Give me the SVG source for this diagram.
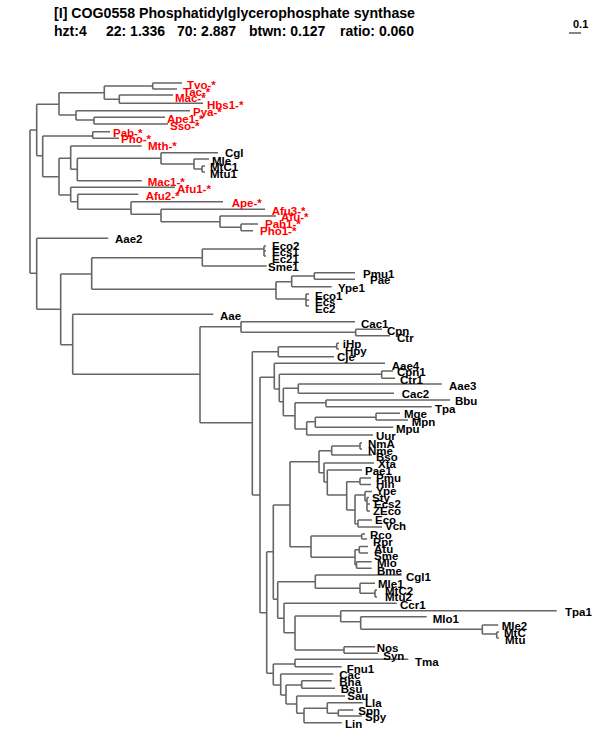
<svg xmlns="http://www.w3.org/2000/svg" width="600" height="750" viewBox="0 0 600 750">
<style>
.e{fill:none;stroke:#666;stroke-width:1.6}
text{font-family:"Liberation Sans",Arial,Helvetica,sans-serif;font-weight:bold;font-size:11.5px;fill:#000}
.r text{fill:#f00}
.h{font-size:14px}
</style>
<rect width="600" height="750" fill="#fff"/>
<g id="header">
<text class="h" x="54" y="18" textLength="361" lengthAdjust="spacingAndGlyphs">[I] COG0558 Phosphatidylglycerophosphate synthase</text>
<text class="h" y="36"><tspan x="54">hzt:4</tspan><tspan x="106">22: 1.336</tspan><tspan x="177">70: 2.887</tspan><tspan x="249">btwn: 0.127</tspan><tspan x="340">ratio: 0.060</tspan></text>
</g>
<g id="scale">
<path class="e" d="M569 33 H581"/>
<text x="573" y="28" style="font-size:11px">0.1</text>
</g>
<g id="connectors">
<path class="e" d="M30 130 V273.3 M30 130 H36.7 M30 273.3 H36.7"/>
<path class="e" d="M36.7 104.3 V155.7 M36.7 104.3 H59 M36.7 155.7 H42.7"/>
<path class="e" d="M59 92.7 V115 M59 92.7 H104.3 M59 115 H76"/>
<path class="e" d="M104.3 86 V99.3 M104.3 86 H152.7 M104.3 99.3 H119.3"/>
<path class="e" d="M152.7 83 V89 M152.7 83 H182 M152.7 89 H177"/>
<path class="e" d="M119.3 95 V103.3 M119.3 95 H173 M119.3 103.3 H203"/>
<path class="e" d="M76 110.7 V120 M76 110.7 H190 M76 120 H94"/>
<path class="e" d="M94 117.3 V124 M94 117.3 H165 M94 124 H168"/>
<path class="e" d="M42.7 136 V176.7 M42.7 136 H92.7 M42.7 176.7 H59"/>
<path class="e" d="M92.7 131.7 V138.3 M92.7 131.7 H110 M92.7 138.3 H119"/>
<path class="e" d="M59 158.3 V195 M59 158.3 H70.7 M59 195 H70.7"/>
<path class="e" d="M70.7 146 V169.3 M70.7 146 H141.7 M70.7 169.3 H77.3"/>
<path class="e" d="M77.3 158.3 V180.7 M77.3 158.3 H161 M77.3 180.7 H141.7"/>
<path class="e" d="M161 152.7 V164 M161 152.7 H218 M161 164 H194"/>
<path class="e" d="M194 159 V169 M194 159 H209 M194 169 H202"/>
<path class="e" d="M202 166 V172 M202 166 H205 M202 172 H205"/>
<path class="e" d="M70.7 187.3 V201.7 M70.7 187.3 H175 M70.7 201.7 H77.7"/>
<path class="e" d="M77.7 194.3 V209.3 M77.7 194.3 H138.3 M77.7 209.3 H131"/>
<path class="e" d="M131 201.7 V214.3 M131 201.7 H223 M131 214.3 H161"/>
<path class="e" d="M161 209.3 V221.7 M161 209.3 H265 M161 221.7 H220"/>
<path class="e" d="M220 216 V227.3 M220 216 H276 M220 227.3 H241"/>
<path class="e" d="M241 224 V230.7 M241 224 H258 M241 230.7 H253"/>
<path class="e" d="M36.7 238.3 V309.3 M36.7 238.3 H108.3 M36.7 309.3 H60.7"/>
<path class="e" d="M60.7 274 V344.7 M60.7 274 H91.7 M60.7 344.7 H72.7"/>
<path class="e" d="M91.7 257.7 V289.3 M91.7 257.7 H202.3 M91.7 289.3 H276"/>
<path class="e" d="M202.3 249 V266 M202.3 249 H264 M202.3 266 H266.7"/>
<path class="e" d="M264 246 V256 M264 246 H266 M264 251 H266 M264 256 H266"/>
<path class="e" d="M276 281.7 V299 M276 281.7 H291.7 M276 299 H306"/>
<path class="e" d="M291.7 276 V286.7 M291.7 276 H314.3 M291.7 286.7 H331.7"/>
<path class="e" d="M314.3 272.7 V279.3 M314.3 272.7 H355 M314.3 279.3 H355"/>
<path class="e" d="M306 294 V306 M306 294 H309 M306 300 H309 M306 306 H309"/>
<path class="e" d="M72.7 314.3 V374.3 M72.7 314.3 H213.3 M72.7 374.3 H200"/>
<path class="e" d="M200 326.7 V422.7 M200 326.7 H241 M200 422.7 H252.3"/>
<path class="e" d="M241 321.7 V332.3 M241 321.7 H355 M241 332.3 H355.7"/>
<path class="e" d="M355.7 329.3 V335.7 M355.7 329.3 H382 M355.7 335.7 H390"/>
<path class="e" d="M252.3 351.7 V495 M252.3 351.7 H278.3 M252.3 495 H260"/>
<path class="e" d="M278.3 346.7 V356.7 M278.3 346.7 H336.7 M278.3 356.7 H334"/>
<path class="e" d="M336.7 343.3 V349 M336.7 343.3 H339 M336.7 349 H339"/>
<path class="e" d="M260 377.3 V612.7 M260 377.3 H274.3 M260 612.7 H266.7"/>
<path class="e" d="M274.3 363.3 V389 M274.3 363.3 H385 M274.3 389 H279.3"/>
<path class="e" d="M279.3 374.3 V401.7 M279.3 374.3 H381.7 M279.3 401.7 H283.3"/>
<path class="e" d="M381.7 371 V378.3 M381.7 371 H393 M381.7 378.3 H395"/>
<path class="e" d="M283.3 388.3 V415.7 M283.3 388.3 H298.3 M283.3 415.7 H295"/>
<path class="e" d="M298.3 384 V393.3 M298.3 384 H441.7 M298.3 393.3 H394"/>
<path class="e" d="M295 402.7 V429 M295 402.7 H326 M295 429 H306.7"/>
<path class="e" d="M326 400 V406.7 M326 400 H450 M326 406.7 H431.7"/>
<path class="e" d="M306.7 421.7 V435 M306.7 421.7 H315.3 M306.7 435 H373"/>
<path class="e" d="M315.3 417.3 V427.3 M315.3 417.3 H376 M315.3 427.3 H393.3"/>
<path class="e" d="M376 413.3 V420 M376 413.3 H400 M376 420 H408"/>
<path class="e" d="M266.7 551.7 V673.3 M266.7 551.7 H273.3 M266.7 673.3 H273.3"/>
<path class="e" d="M273.3 505 V599.3 M273.3 505 H290 M273.3 599.3 H277.7"/>
<path class="e" d="M290 461.7 V546.7 M290 461.7 H319 M290 546.7 H311"/>
<path class="e" d="M319 450.7 V472.7 M319 450.7 H331.7 M319 472.7 H324"/>
<path class="e" d="M331.7 446 V455 M331.7 446 H360 M331.7 455 H372"/>
<path class="e" d="M360 443 V449 M360 443 H362 M360 449 H362"/>
<path class="e" d="M324 463 V482 M324 463 H374 M324 482 H327.3"/>
<path class="e" d="M327.3 470 V495 M327.3 470 H362 M327.3 495 H346.7"/>
<path class="e" d="M346.7 481.7 V510 M346.7 481.7 H360 M346.7 510 H355"/>
<path class="e" d="M360 478 V484.5 M360 478 H371 M360 484.5 H371"/>
<path class="e" d="M355 495 V524 M355 495 H365 M355 524 H358"/>
<path class="e" d="M365 491.5 V501 M365 491.5 H372 M365 501 H367"/>
<path class="e" d="M367 497.5 V511 M367 497.5 H369 M367 504 H370 M367 511 H370"/>
<path class="e" d="M358 520 V527 M358 520 H372 M358 527 H382"/>
<path class="e" d="M311 536 V557.3 M311 536 H361.7 M311 557.3 H355"/>
<path class="e" d="M361.7 534 V539 M361.7 534 H365 M361.7 539 H367"/>
<path class="e" d="M355 549.7 V565 M355 549.7 H359.3 M355 565 H356.5"/>
<path class="e" d="M359.3 546.5 V553 M359.3 546.5 H368 M359.3 553 H368"/>
<path class="e" d="M356.5 561.7 V568.3 M356.5 561.7 H371.7 M356.5 568.3 H371.7"/>
<path class="e" d="M277.7 581.7 V618.3 M277.7 581.7 H315.3 M277.7 618.3 H284"/>
<path class="e" d="M315.3 575 V588.3 M315.3 575 H401.7 M315.3 588.3 H360"/>
<path class="e" d="M360 583.3 V593.3 M360 583.3 H375 M360 593.3 H375"/>
<path class="e" d="M375 590 V597 M375 590 H377 M375 597 H377"/>
<path class="e" d="M284 603.3 V632.7 M284 603.3 H396.7 M284 632.7 H295"/>
<path class="e" d="M295 616 V650 M295 616 H340.7 M295 650 H344"/>
<path class="e" d="M340.7 610.7 V621.7 M340.7 610.7 H556.7 M340.7 621.7 H360.7"/>
<path class="e" d="M360.7 616.7 V629.3 M360.7 616.7 H426.7 M360.7 629.3 H482.3"/>
<path class="e" d="M482.3 625 V634 M482.3 625 H498.3 M482.3 634 H496.7"/>
<path class="e" d="M496.7 632 V638 M496.7 632 H499 M496.7 638 H499"/>
<path class="e" d="M344 646.7 V653.3 M344 646.7 H375 M344 653.3 H378"/>
<path class="e" d="M273.3 664 V685 M273.3 664 H295 M273.3 685 H280.7"/>
<path class="e" d="M295 659.3 V666.7 M295 659.3 H408.3 M295 666.7 H341.7"/>
<path class="e" d="M280.7 674 V695 M280.7 674 H333.3 M280.7 695 H286"/>
<path class="e" d="M286 685 V704 M286 685 H301.7 M286 704 H296.7"/>
<path class="e" d="M301.7 680.7 V688.3 M301.7 680.7 H331.7 M301.7 688.3 H335"/>
<path class="e" d="M296.7 696 V713.3 M296.7 696 H345 M296.7 713.3 H304"/>
<path class="e" d="M304 708.3 V722.7 M304 708.3 H327.3 M304 722.7 H341.7"/>
<path class="e" d="M327.3 702.7 V713.3 M327.3 702.7 H362.7 M327.3 713.3 H338.3"/>
<path class="e" d="M338.3 710 V716 M338.3 710 H353.3 M338.3 716 H361.7"/>
</g>
<g class="r">
<g id="n-Tvo"><text x="187" y="89">Tvo-*</text></g>
<g id="n-Tac"><text x="183" y="96">Tac-*</text></g>
<g id="n-Mac"><text x="175" y="102">Mac-*</text></g>
<g id="n-Hbs1"><text x="207" y="108.5">Hbs1-*</text></g>
<g id="n-Pya"><text x="193" y="116">Pya-*</text></g>
<g id="n-Ape1"><text x="167" y="122.5">Ape1-*</text></g>
<g id="n-Sso"><text x="170" y="129.5">Sso-*</text></g>
<g id="n-Pab"><text x="113" y="136.5">Pab-*</text></g>
<g id="n-Pho"><text x="121" y="143">Pho-*</text></g>
<g id="n-Mth"><text x="148" y="150">Mth-*</text></g>
<g id="n-Mac1"><text x="147.7" y="185.5">Mac1-*</text></g>
<g id="n-Afu1"><text x="177" y="192.5">Afu1-*</text></g>
<g id="n-Afu2"><text x="145.7" y="199.5">Afu2-*</text></g>
<g id="n-Ape"><text x="231.7" y="206.5">Ape-*</text></g>
<g id="n-Afu3"><text x="271.7" y="214.5">Afu3-*</text></g>
<g id="n-Afu"><text x="281" y="221">Afu-*</text></g>
<g id="n-Pab1"><text x="265" y="228">Pab1-*</text></g>
<g id="n-Pho1"><text x="260" y="235">Pho1-*</text></g>
</g>
<g id="n-Cgl"><text x="225" y="157">Cgl</text></g>
<g id="n-Mle"><text x="212" y="164.5">Mle</text></g>
<g id="n-MtC1"><text x="210" y="171">MtC1</text></g>
<g id="n-Mtu1"><text x="210" y="178">Mtu1</text></g>
<g id="n-Aae2"><text x="115" y="242.5">Aae2</text></g>
<g id="n-Eco2"><text x="272" y="249.5">Eco2</text></g>
<g id="n-Ecs1"><text x="272" y="256">Ecs1</text></g>
<g id="n-Ec21"><text x="272" y="263">Ec21</text></g>
<g id="n-Sme1"><text x="268" y="270.5">Sme1</text></g>
<g id="n-Pmu1"><text x="363" y="277.5">Pmu1</text></g>
<g id="n-Pae"><text x="370" y="284">Pae</text></g>
<g id="n-Ype1"><text x="338" y="291.5">Ype1</text></g>
<g id="n-Eco1"><text x="315" y="299.5">Eco1</text></g>
<g id="n-Ecs"><text x="315" y="306">Ecs</text></g>
<g id="n-Ec2"><text x="315" y="312.5">Ec2</text></g>
<g id="n-Aae"><text x="220" y="320">Aae</text></g>
<g id="n-Cac1"><text x="361" y="327.5">Cac1</text></g>
<g id="n-Cpn"><text x="387" y="335">Cpn</text></g>
<g id="n-Ctr"><text x="397" y="341.5">Ctr</text></g>
<g id="n-iHp"><text x="342.7" y="348">iHp</text></g>
<g id="n-Hpy"><text x="345" y="354.5">Hpy</text></g>
<g id="n-Cje"><text x="337" y="361">Cje</text></g>
<g id="n-Aae4"><text x="391.7" y="369.5">Aae4</text></g>
<g id="n-Cpn1"><text x="397" y="376">Cpn1</text></g>
<g id="n-Ctr1"><text x="400" y="383.5">Ctr1</text></g>
<g id="n-Aae3"><text x="449" y="390">Aae3</text></g>
<g id="n-Cac2"><text x="401.7" y="398">Cac2</text></g>
<g id="n-Bbu"><text x="455" y="404.5">Bbu</text></g>
<g id="n-Tpa"><text x="435" y="413">Tpa</text></g>
<g id="n-Mge"><text x="404" y="417.5">Mge</text></g>
<g id="n-Mpn"><text x="411.7" y="426">Mpn</text></g>
<g id="n-Mpu"><text x="396" y="433">Mpu</text></g>
<g id="n-Uur"><text x="376" y="439.5">Uur</text></g>
<g id="n-NmA"><text x="368" y="447.5">NmA</text></g>
<g id="n-Nme"><text x="368" y="455">Nme</text></g>
<g id="n-Bso"><text x="376" y="460.5">Bso</text></g>
<g id="n-Xta"><text x="378" y="468">Xta</text></g>
<g id="n-Pae1"><text x="365" y="474.5">Pae1</text></g>
<g id="n-Pmu"><text x="376" y="481.5">Pmu</text></g>
<g id="n-Hin"><text x="376" y="488">Hin</text></g>
<g id="n-Ype"><text x="376" y="495">Ype</text></g>
<g id="n-Sty"><text x="372" y="501.5">Sty</text></g>
<g id="n-Ecs2"><text x="374" y="508">Ecs2</text></g>
<g id="n-ZEco"><text x="373" y="515">ZEco</text></g>
<g id="n-Eco"><text x="375" y="524">Eco</text></g>
<g id="n-Vch"><text x="385" y="530">Vch</text></g>
<g id="n-Rco"><text x="370" y="539">Rco</text></g>
<g id="n-Rpr"><text x="373" y="545.5">Rpr</text></g>
<g id="n-Atu"><text x="374" y="553">Atu</text></g>
<g id="n-Sme"><text x="374" y="560">Sme</text></g>
<g id="n-Mlo"><text x="377" y="567">Mlo</text></g>
<g id="n-Bme"><text x="377" y="574.5">Bme</text></g>
<g id="n-Cgl1"><text x="406" y="581">Cgl1</text></g>
<g id="n-Mle1"><text x="378" y="588">Mle1</text></g>
<g id="n-MtC2"><text x="385" y="594.5">MtC2</text></g>
<g id="n-Mtu2"><text x="385" y="601">Mtu2</text></g>
<g id="n-Ccr1"><text x="400" y="608.5">Ccr1</text></g>
<g id="n-Tpa1"><text x="565" y="616">Tpa1</text></g>
<g id="n-Mlo1"><text x="432.7" y="623">Mlo1</text></g>
<g id="n-Mle2"><text x="501.7" y="630">Mle2</text></g>
<g id="n-MtC"><text x="504" y="636.5">MtC</text></g>
<g id="n-Mtu"><text x="505" y="643.5">Mtu</text></g>
<g id="n-Nos"><text x="376.7" y="652">Nos</text></g>
<g id="n-Syn"><text x="383.3" y="659.5">Syn</text></g>
<g id="n-Tma"><text x="415" y="666">Tma</text></g>
<g id="n-Fnu1"><text x="346.7" y="672.5">Fnu1</text></g>
<g id="n-Cac"><text x="339.3" y="679">Cac</text></g>
<g id="n-Bha"><text x="339.3" y="685.5">Bha</text></g>
<g id="n-Bsu"><text x="340.7" y="692.5">Bsu</text></g>
<g id="n-Sau"><text x="347.3" y="699.5">Sau</text></g>
<g id="n-Lla"><text x="365" y="707">Lla</text></g>
<g id="n-Spn"><text x="358.3" y="714.5">Spn</text></g>
<g id="n-Spy"><text x="365" y="721">Spy</text></g>
<g id="n-Lin"><text x="345" y="728">Lin</text></g>
</svg>
